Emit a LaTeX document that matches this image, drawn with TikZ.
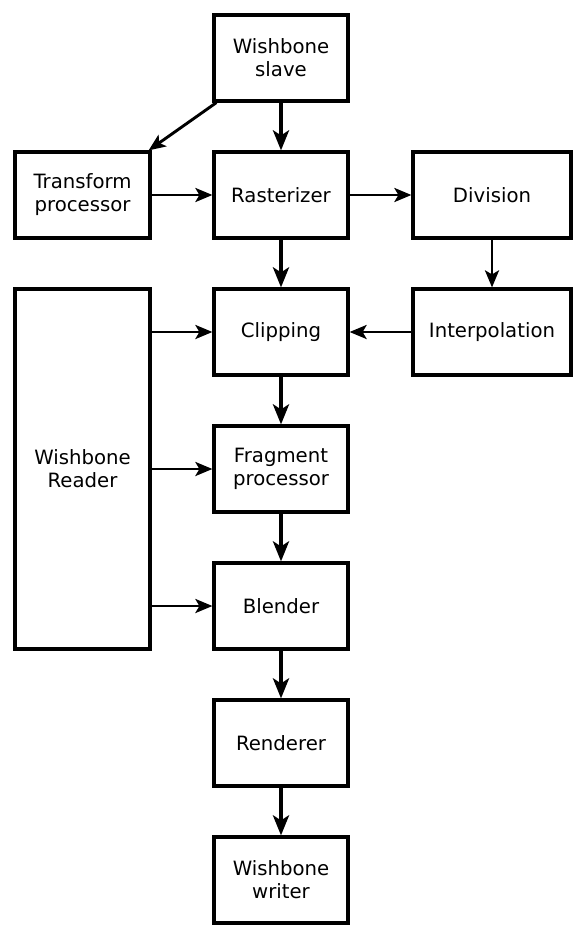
\documentclass[tikz,border=0pt]{standalone}
\usepackage{fontspec}
\setmainfont{DejaVu Sans}
\usetikzlibrary{arrows.meta}

\begin{document}
\begin{tikzpicture}[x=1pt,y=-1pt,
  unitbox/.style={draw,line width=3.2pt,minimum width=134pt,minimum height=86pt,align=center,inner sep=0pt,font=\fontsize{19.7}{23}\selectfont},
  thinflow/.style={line width=2.9pt,-{Stealth[length=17pt,width=14pt,inset=4pt]}},
  thickflow/.style={line width=4.8pt,-{Stealth[length=20pt,width=16pt,inset=5pt]}}]
\useasboundingbox (0,0) rectangle (587,939);
\node [unitbox] (slave) at (281,58) {Wishbone\\slave};
\node [unitbox,minimum width=135pt] (trans) at (82.5,195) {Transform\\processor};
\node [unitbox] (raster) at (281,195) {Rasterizer};
\node [unitbox,minimum width=158pt] (div) at (492,195) {Division};
\node [unitbox,minimum width=135pt,minimum height=360pt] (reader) at (82.5,469) {Wishbone\\Reader};
\node [unitbox] (clip) at (281,332) {Clipping};
\node [unitbox,minimum width=158pt] (interp) at (492,332) {Interpolation};
\node [unitbox] (frag) at (281,469) {Fragment\\processor};
\node [unitbox] (blend) at (281,606) {Blender};
\node [unitbox] (render) at (281,743) {Renderer};
\node [unitbox] (writer) at (281,880) {Wishbone\\writer};

\draw [thinflow] ([xshift=4pt]slave.south west) -- ([xshift=-3pt]trans.north east);
\draw [thickflow] (slave) -- (raster); \draw [thickflow] (raster) -- (clip); \draw [thickflow] (clip) -- (frag);
\draw [thickflow] (frag) -- (blend); \draw [thickflow] (blend) -- (render); \draw [thickflow] (render) -- (writer);
\draw [thinflow] (trans) -- (raster); \draw [thinflow] (raster) -- (div);
\draw [thinflow] (div) -- (interp); \draw [thinflow] (interp) -- (clip);
\draw [thinflow] (reader.east |- clip) -- (clip);
\draw [thinflow] (reader.east |- frag) -- (frag);
\draw [thinflow] (reader.east |- blend) -- (blend);

\end{tikzpicture}
\end{document}
